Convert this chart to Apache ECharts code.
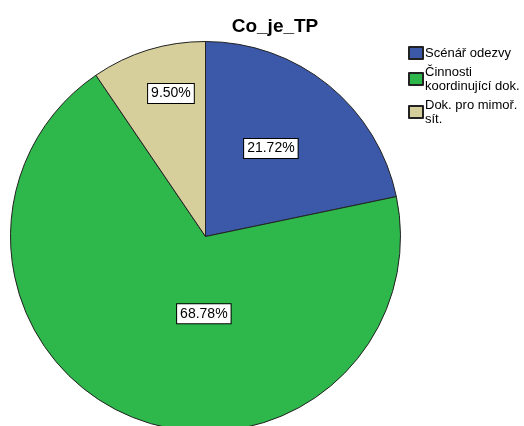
<!DOCTYPE html>
<html><head><meta charset="utf-8">
<script src="https://cdn.jsdelivr.net/npm/echarts@6/dist/echarts.min.js"></script>
<style>html,body{margin:0;padding:0;background:#fff}#c{width:524px;height:426px}</style>
</head><body><div id="c"></div>
<script>
const categories = ['Scénář odezvy', 'Činnosti\nkoordinující dok.', 'Dok. pro mimoř.\nsít.'];
const values = [21.72, 68.78, 9.50];
const colors = ['#3C58A9', '#2EB74B', '#D6CF9C'];
const labelOffsets = [[2, -10], [36, -16], [-5, -47]];

const chart = echarts.init(document.getElementById('c'));
chart.setOption({
  animation: false,
  backgroundColor: '#fff',
  title: {
    text: 'Co_je_TP', left: 270, top: 12, textAlign: 'center',
    textStyle: { fontFamily: 'Liberation Sans', fontSize: 19, fontWeight: 'bold', color: '#000' }
  },
  legend: {
    orient: 'vertical', left: 408, top: 46, padding: 0, itemWidth: 14, itemHeight: 12, itemGap: 5,
    icon: 'rect',
    textStyle: { fontFamily: 'Liberation Sans', fontSize: 13, lineHeight: 14, color: '#000', padding: [0,0,0,-3] },
    data: categories
  },
  series: [{
    type: 'pie', center: [205.5, 236.5], radius: [0, 195], startAngle: 90, clockwise: true,
    itemStyle: { borderColor: '#222', borderWidth: 1 },
    emphasis: { disabled: true },
    label: {
      show: true, position: 'inside', fontFamily: 'Liberation Sans', fontSize: 14, color: '#000',
      backgroundColor: '#fff', borderColor: '#000', borderWidth: 1, padding: [3, 3, 2, 3],
      formatter: p => p.value.toFixed(2) + '%'
    },
    labelLine: { show: false },
    data: categories.map((n, i) => ({
      name: n, value: values[i], itemStyle: { color: colors[i] },
      label: { offset: labelOffsets[i] }
    }))
  }]
});
</script></body></html>
